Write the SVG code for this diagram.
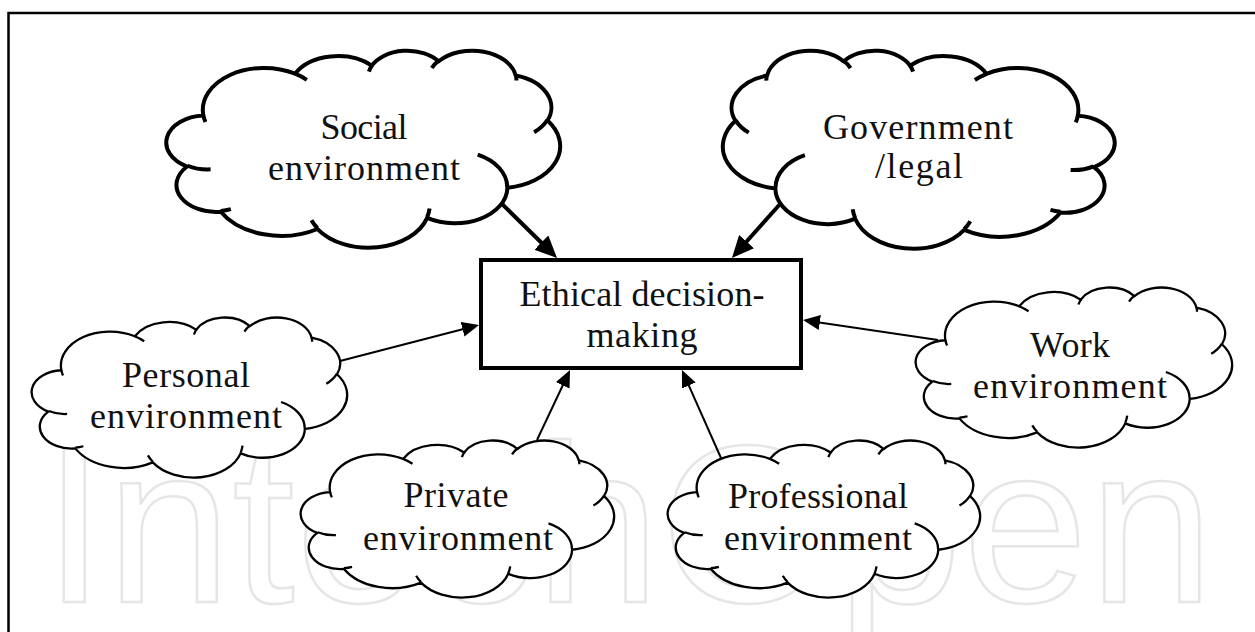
<svg xmlns="http://www.w3.org/2000/svg" xmlns:xlink="http://www.w3.org/1999/xlink" width="1255" height="632" viewBox="0 0 1255 632">
<style>
  .bg { fill: #ffffff; }
  .frame { fill: none; stroke: #000; stroke-width: 2.5; }
  .wm { fill: none; stroke: #e6e6e6; stroke-width: 2.5; font-family: "Liberation Sans", Arial, sans-serif; font-size: 225px; }
  .vx { vector-effect: non-scaling-stroke; }
  .cloud { fill: #fff; stroke: #000; stroke-linejoin: round; }
  .hook { fill: none; stroke: #000; }
  .thick { stroke-width: 4; }
  .thin { stroke-width: 2.3; }
  .box { fill: #fff; stroke: #000; stroke-width: 4; }
  .lbl { font-family: "Liberation Serif", "Times New Roman", serif; font-size: 36px; fill: #111; text-anchor: middle; }
  .conn-thick { stroke: #000; stroke-width: 4; fill: none; marker-end: url(#headThick); }
  .conn-thin { stroke: #000; stroke-width: 2; fill: none; marker-end: url(#headThin); }
</style>
<defs>
  <marker id="headThick" markerUnits="userSpaceOnUse" markerWidth="22" markerHeight="20" refX="12" refY="10" orient="auto">
    <path d="M0,0 L22,10 L0,20 Z" fill="#000"/>
  </marker>
  <marker id="headThin" markerUnits="userSpaceOnUse" markerWidth="17" markerHeight="15" refX="9" refY="7.5" orient="auto">
    <path d="M0,0 L17,7.5 L0,15 Z" fill="#000"/>
  </marker>
  <path id="cloudOutline" class="vx" d="M39.0,143.7 A67.53,91.9 0 0 1 140.1,52.0 A53.33,72.67 0 0 1 224.6,34.3 A43.65,59.45 0 0 1 298.3,24.8 A48.57,65.95 0 0 1 383.2,55.8 A53.33,72.73 0 0 1 418.2,154.6 A67.75,92.2 0 0 1 374.0,302.0 A57.85,78.67 0 0 1 285.6,368.1 A67.52,92.15 0 0 1 164.8,392.6 A77.2,105.43 0 0 1 58.1,354.7 A43.6,59.18 0 0 1 21.1,255.5 A43.45,59.45 0 0 1 39.0,143.7 Z"/>
  <path id="cloudHooks" class="vx" d="M46.93,261.77 A43.45,59.45 0 0 1 21.59,253.80 M69.28,348.99 A43.6,59.18 0 0 1 58.20,352.81 M164.78,390.90 A67.52,92.15 0 0 1 158.09,373.47 M288.27,347.51 A67.52,92.15 0 0 1 285.60,366.61 M341.29,229.54 A57.85,78.67 0 0 1 373.81,300.90 M417.98,153.54 A53.33,72.73 0 0 1 403.49,180.31 M383.24,54.26 A48.57,65.95 0 0 1 384.00,66.89 M290.78,39.52 A48.57,65.95 0 0 1 298.20,23.40 M221.41,47.20 A43.65,59.45 0 0 1 225.00,33.31 M140.00,51.92 A67.53,91.9 0 0 1 153.00,65.41 M41.27,157.89 A67.53,91.9 0 0 1 39.00,143.71"/>
</defs>

<rect class="bg" x="0" y="0" width="1255" height="632"/>
<text class="wm" x="43" y="602" textLength="1171" lengthAdjust="spacing">IntechOpen</text>
<rect class="frame" x="8.5" y="13" width="1300" height="700"/>

<g id="connectors">
  <line class="conn-thick" x1="500" y1="202" x2="549.9" y2="251.0"/>
  <line class="conn-thick" x1="781" y1="203" x2="738.6" y2="250.5"/>
  <line class="conn-thin" x1="340" y1="361" x2="471.3" y2="327.0"/>
  <line class="conn-thin" x1="938" y1="340" x2="810.9" y2="321.2"/>
  <line class="conn-thin" x1="537" y1="440" x2="566.6" y2="377.2"/>
  <line class="conn-thin" x1="721" y1="458" x2="685.2" y2="377.3"/>
</g>

<g id="social">
  <g transform="translate(168,50) scale(0.9074,0.4560)">
    <use xlink:href="#cloudOutline" class="cloud thick"/>
    <use xlink:href="#cloudHooks" class="hook thick"/>
  </g>
  <text class="lbl" x="364" y="139" textLength="87">Social</text>
  <text class="lbl" x="364" y="180" textLength="192">environment</text>
</g>

<g id="government">
  <g transform="translate(1113,50) scale(-0.9028,0.4583)">
    <use xlink:href="#cloudOutline" class="cloud thick"/>
    <use xlink:href="#cloudHooks" class="hook thick"/>
  </g>
  <text class="lbl" x="918" y="139" textLength="190">Government</text>
  <text class="lbl" x="919" y="178" textLength="88">/legal</text>
</g>

<g id="personal">
  <g transform="translate(33,317) scale(0.7269,0.3704)">
    <use xlink:href="#cloudOutline" class="cloud thin"/>
    <use xlink:href="#cloudHooks" class="hook thin"/>
  </g>
  <text class="lbl" x="186" y="387" textLength="128">Personal</text>
  <text class="lbl" x="186" y="428" textLength="192">environment</text>
</g>

<g id="work">
  <g transform="translate(917,287) scale(0.7292,0.3704)">
    <use xlink:href="#cloudOutline" class="cloud thin"/>
    <use xlink:href="#cloudHooks" class="hook thin"/>
  </g>
  <text class="lbl" x="1070" y="357" textLength="80">Work</text>
  <text class="lbl" x="1070" y="398" textLength="194">environment</text>
</g>

<g id="private">
  <g transform="translate(302,440) scale(0.7222,0.3634)">
    <use xlink:href="#cloudOutline" class="cloud thin"/>
    <use xlink:href="#cloudHooks" class="hook thin"/>
  </g>
  <text class="lbl" x="456" y="507" textLength="105">Private</text>
  <text class="lbl" x="458" y="550" textLength="190">environment</text>
</g>

<g id="professional">
  <g transform="translate(669,440) scale(0.7199,0.3634)">
    <use xlink:href="#cloudOutline" class="cloud thin"/>
    <use xlink:href="#cloudHooks" class="hook thin"/>
  </g>
  <text class="lbl" x="818" y="508" textLength="180">Professional</text>
  <text class="lbl" x="818" y="550" textLength="188">environment</text>
</g>

<g id="decision">
  <rect class="box" x="481" y="260" width="320" height="108"/>
  <text class="lbl" x="642" y="306" textLength="245">Ethical decision-</text>
  <text class="lbl" x="642" y="347" textLength="111">making</text>
</g>
</svg>
